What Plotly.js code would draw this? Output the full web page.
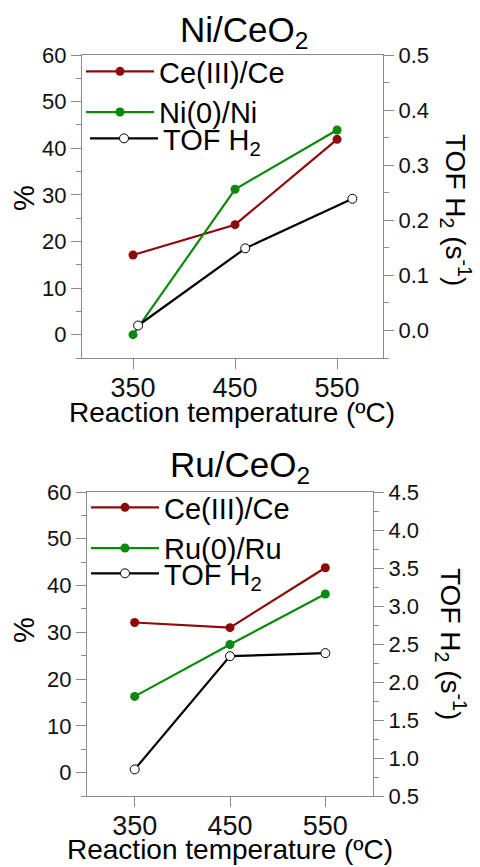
<!DOCTYPE html>
<html>
<head>
<meta charset="utf-8">
<script src="https://cdn.plot.ly/plotly-3.0.1.min.js"></script>
<style>html,body{margin:0;padding:0;background:#fff;}#chart{width:480px;height:867px;}</style>
</head>
<body>
<div id="chart"></div>
<script>
// ---- data ----
const temps = [350, 450, 550];
const tofTempsNi = [355, 460, 565];
const niCe3 = [17.1, 23.6, 41.9];
const niNi0 = [0.0, 31.2, 43.9];
const niTOF = [0.009, 0.149, 0.239];
const ruCe3 = [32.1, 31.0, 43.8];
const ruRu0 = [16.3, 27.4, 38.2];
const ruTOF = [0.85, 2.34, 2.38];
const xTickVals = [350, 450, 550];
const xTickText = ['350', '450', '550'];
const pctTicks = [0, 10, 20, 30, 40, 50, 60];
const topTitle = 'Ni/CeO<sub>2</sub>';
const bottomTitle = 'Ru/CeO<sub>2</sub>';
const xTitleText = 'Reaction temperature (ºC)';
const yTitleText = '%';
const y2TitleText = 'TOF H<sub>2</sub> (s<sup>-1</sup>)';

// ---- styles ----
const RED = '#8c0a0a', GREEN = '#0a8a0a', BLACK = '#000000';
const AXC = '#8a8a8a';
const FONT = 'Liberation Sans, Arial, sans-serif';
const H = 867, W = 480;

function line(x, y, color, name, xa, ya, legend, open) {
  return {
    x: x, y: y, name: name, xaxis: xa, yaxis: ya, legend: legend,
    type: 'scatter', mode: 'lines+markers',
    line: {color: color, width: 2.2},
    marker: {size: 9, color: open ? '#ffffff' : color, line: {color: open ? BLACK : color, width: open ? 1 : 0}}
  };
}

const data = [
  line(temps, niCe3, RED, 'Ce(III)/Ce', 'x', 'y', 'legend'),
  line(temps, niNi0, GREEN, 'Ni(0)/Ni', 'x', 'y', 'legend'),
  line(tofTempsNi, niTOF, BLACK, 'TOF H<sub>2</sub>', 'x', 'y2', 'legend3', true),
  line(temps, ruCe3, RED, 'Ce(III)/Ce', 'x2', 'y3', 'legend2'),
  line(temps, ruRu0, GREEN, 'Ru(0)/Ru', 'x2', 'y3', 'legend2'),
  line(temps, ruTOF, BLACK, 'TOF H<sub>2</sub>', 'x2', 'y4', 'legend4', true)
];

function xAx(domain, range, anchor) {
  return {
    domain: domain, range: range, anchor: anchor,
    tickmode: 'array', tickvals: xTickVals, ticktext: xTickText,
    ticks: 'outside', ticklen: 10, tickcolor: AXC, tickwidth: 1,
    ticklabelstandoff: -4,
    showline: true, linecolor: AXC, linewidth: 1, mirror: true,
    showgrid: false, zeroline: false,
    tickfont: {family: FONT, size: 27, color: '#111'}
  };
}
function yLeft(domain, anchor) {
  return {
    domain: domain, range: [-5, 60], anchor: anchor,
    tickmode: 'array', tickvals: pctTicks,
    ticks: 'outside', ticklen: 10, tickcolor: AXC, tickwidth: 1,
    minor: {dtick: 5, ticks: 'outside', ticklen: 5, tickcolor: AXC, showgrid: false},
    showline: true, linecolor: AXC, linewidth: 1,
    showgrid: false, zeroline: false,
    tickfont: {family: FONT, size: 22, color: '#111'}
  };
}
function yRight(range, dtick, minor, overlay, anchor) {
  return {
    range: range, overlaying: overlay, side: 'right', anchor: anchor,
    tick0: 0, dtick: dtick, tickformat: '.1f',
    ticks: 'outside', ticklen: 10, tickcolor: AXC, tickwidth: 1,
    minor: {dtick: minor, ticks: 'outside', ticklen: 5, tickcolor: AXC, showgrid: false},
    showline: true, linecolor: AXC, linewidth: 1,
    showgrid: false, zeroline: false,
    tickfont: {family: FONT, size: 22, color: '#111'}
  };
}

const topX = [82 / W, 383 / W], topY = [1 - 358 / H, 1 - 55 / H];
const botX = [87 / W, 373 / W], botY = [1 - 796 / H, 1 - 492 / H];

function ann(text, px, py, size, angle) {
  return {text: text, xref: 'paper', yref: 'paper', x: px / W, y: 1 - py / H,
    xanchor: 'center', yanchor: 'middle', showarrow: false, textangle: angle || 0,
    font: {family: FONT, size: size, color: '#000'}};
}

const legendStyle = {
  font: {family: FONT, size: 29, color: '#000'},
  bgcolor: 'rgba(0,0,0,0)', borderwidth: 0,
  xanchor: 'left', yanchor: 'top', itemwidth: 68, tracegroupgap: 0
};
function leg(px, py) { return Object.assign({}, legendStyle, {x: px / W, y: 1 - py / H}); }

const layout = {
  width: W, height: H,
  margin: {l: 0, r: 0, t: 0, b: 0},
  paper_bgcolor: '#fff', plot_bgcolor: '#fff',
  font: {family: FONT},
  showlegend: true,
  legend: leg(81, 46),
  legend3: leg(85, 113),
  legend2: leg(86, 482),
  legend4: leg(86, 548),
  xaxis: xAx(topX, [300, 595], 'y'),
  yaxis: yLeft(topY, 'x'),
  yaxis2: yRight([-0.05, 0.5], 0.1, 0.05, 'y', 'x'),
  xaxis2: xAx(botX, [300, 600], 'y3'),
  yaxis3: yLeft(botY, 'x2'),
  yaxis4: yRight([0.5, 4.5], 0.5, 0.25, 'y3', 'x2'),
  annotations: [
    ann(topTitle, 244, 32, 35),
    ann(bottomTitle, 240, 467, 35),
    ann(xTitleText, 232, 412, 28),
    ann(xTitleText, 230, 849, 28),
    ann(yTitleText, 24, 198, 29, -90),
    ann(yTitleText, 24, 630, 29, -90),
    ann(y2TitleText, 456, 210, 28, 90),
    ann(y2TitleText, 451, 644, 28, 90)
  ]
};

Plotly.newPlot('chart', data, layout, {staticPlot: true, displayModeBar: false});
</script>
</body>
</html>
